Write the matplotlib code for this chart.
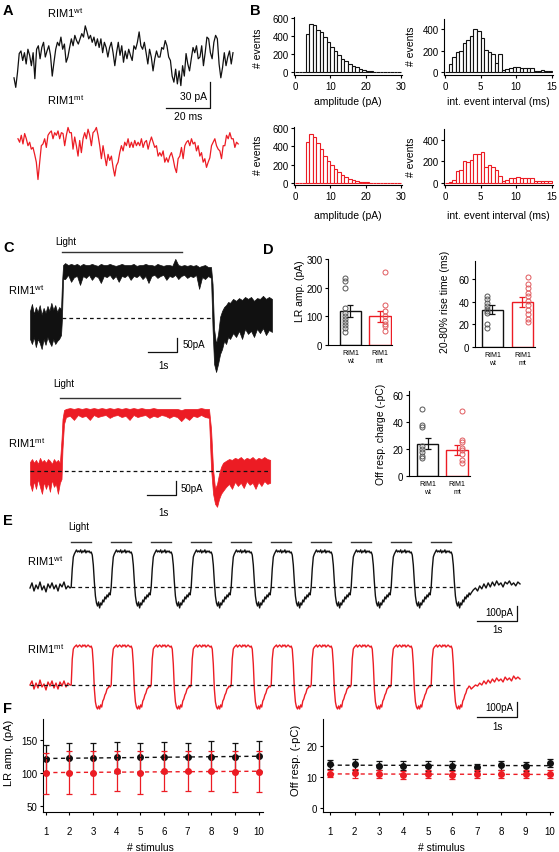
import numpy as np
import matplotlib
matplotlib.use("Agg")
import matplotlib.pyplot as plt
import matplotlib.transforms as mtransforms

plt.rcParams["font.family"] = ["Liberation Sans", "DejaVu Sans"]
plt.rcParams["mathtext.default"] = "regular"
plt.rcParams["axes.linewidth"] = 0.8

W, H = 559, 853
BLACK = "#111111"
RED = "#ec1c24"
PT_GRAY = "#555555"
PT_RED = "#e0585c"

# ---------------- Panel A: spontaneous currents (pA), one sample per A_DT ms
A_DT = 0.79
a_wt = [-14, -25, -8, 14, 17, 6, 15, 2, 19, 12, 0, 15, -15, 19, 23, 8, 21, 27, 10, 17,
        23, 12, -12, 4, 19, 27, 23, 33, 19, 25, 4, 10, 21, 31, 23, 35, 29, 25, 31, 37,
        33, 46, 39, 31, 35, 27, 33, 23, 31, 21, 31, 15, 27, 21, 10, 21, 27, 15, 0, 15,
        27, 12, 23, 4, 17, 8, 19, 12, 6, 23, 19, 27, 39, 23, 19, 27, 15, 2, 19, 10,
        -6, 8, 17, 10, 10, 21, 19, 29, 23, 10, 6, -12, -19, -4, -21, -6, -23, 0, -12, 14,
        2, -6, 8, 21, 15, 23, 8, 10, 23, 0, 15, 33, 31, 15, 8, 27, 35, 31, 2, -14,
        -2, 15, 0, 10, 17, 2, 15]
a_mt = [8, 4, 12, 2, 14, 8, 0, 4, -4, -2, -10, -19, -39, -19, 0, 2, 8, -2, 12, 15,
        17, 8, 15, 12, 17, 8, 15, 14, 0, 12, 21, 15, 15, -4, 10, 0, -12, 6, -8, 8,
        15, 8, 19, 12, 0, 15, 17, 21, 12, 0, -15, 0, -12, -23, -10, -17, -12, -25, -35, -23,
        -19, -8, 0, -6, 4, 0, 8, -2, 4, -2, 6, 0, 4, 0, 8, -2, 4, 6, -4, 4,
        10, 4, -2, 0, -12, -8, -12, -6, -19, -14, -19, -12, -8, -15, -25, -31, -15, -12, -2, -15,
        0, 4, 6, 0, 8, 2, 4, -6, 0, -12, -8, -19, -15, -25, -19, -14, 0, 4, 8, 0,
        -4, -6, -15, 0, 0, 12, 8, 15, 8, 8, -2, 4, 2]

# ---------------- Panel B: histograms
amp_left = list(range(0, 30))                 # 1 pA bins
amp_wt = [0, 0, 0, 420, 535, 525, 470, 440, 390, 330, 275, 230, 190, 150, 120, 95, 70, 55, 40, 25,
          15, 10, 5, 3, 0, 0, 0, 0, 0, 0]
amp_mt = [0, 0, 0, 450, 540, 505, 440, 370, 300, 240, 195, 150, 115, 85, 60, 40, 28, 18, 10, 5,
          2, 0, 0, 0, 0, 0, 0, 0, 0, 0]
iei_left = [0.5 * i for i in range(30)]        # 0.5 ms bins
iei_wt = [0, 75, 140, 185, 195, 270, 295, 340, 405, 385, 320, 205, 190, 165, 80, 170, 20, 30, 40, 45,
          45, 40, 35, 40, 40, 10, 10, 15, 10, 5]
iei_mt = [0, 10, 30, 110, 115, 200, 190, 215, 265, 270, 285, 145, 165, 150, 115, 60, 20, 30, 40, 40,
          50, 45, 45, 40, 40, 20, 20, 20, 20, 20]

# ---------------- Panel C: long light response, noise envelope (pA vs s)
c_wt_pre_hi = [25, 50, 14, 39, 21, 46, 11, 36, 18, 43, 25, 54, 29, 46, 21, 39, 32]
c_wt_pre_lo = [-75, -93, -68, -104, -75, -89, -111, -75, -96, -68, -86, -100, -75, -93, -82, -75, -61]
c_wt_rise_t = [1.10, 1.14]
c_wt_rise_hi = [121, 189]
c_wt_rise_lo = [-4, 139]
c_wt_pl_hi = [196, 189, 193, 189, 193, 186, 193, 189, 189, 193, 189, 186, 193, 189, 189, 193, 189, 186, 189, 193,
              189, 189, 189, 193, 186, 189, 189, 193, 189, 189, 186, 193, 189, 186, 189, 189, 186, 211, 189, 186,
              189, 186, 189, 186, 189, 182, 186, 189, 182, 182]
c_wt_pl_lo = [139, 154, 129, 146, 150, 118, 150, 143, 154, 136, 150, 146, 125, 150, 146, 154, 139, 150, 129, 150,
              146, 154, 136, 150, 146, 154, 139, 150, 125, 150, 154, 143, 150, 154, 136, 150, 146, 154, 139, 150,
              154, 143, 150, 146, 154, 104, 146, 139, 150, 143]
c_wt_fall_t = [6.293, 6.345, 6.414, 6.483, 6.552, 6.621, 6.690, 6.759, 6.828, 6.897]
c_wt_fall_hi = [121, -39, -93, -57, 4, 25, 39, 46, 57, 54]
c_wt_fall_lo = [-39, -164, -193, -164, -129, -111, -82, -93, -68, -75]
c_wt_post_hi = [68, 61, 71, 64, 75, 68, 75, 61, 71, 68, 79, 68, 75, 68]
c_wt_post_lo = [-54, -68, -46, -75, -39, -57, -46, -68, -39, -54, -36, -61, -43, -50]

c_mt_pre_hi = [31, 41, 28, 38, 24, 45, 31, 38, 28, 41, 35, 24, 41, 31, 38, 28]
c_mt_pre_lo = [-45, -69, -35, -62, -28, -55, -79, -38, -62, -41, -72, -31, -55, -45, -79, -41]
c_mt_rise_t = [1.086, 1.12, 1.172]
c_mt_rise_hi = [110, 179, 210]
c_mt_rise_lo = [-28, 76, 162]
c_mt_pl_hi = [214, 217, 214, 217, 214, 217, 214, 217, 214, 217, 214, 217, 214, 217, 214, 217, 214, 217, 214, 217,
              214, 214, 217, 214, 214, 214, 214, 214, 214, 210, 214, 214, 214, 214, 217, 214, 214]
c_mt_pl_lo = [186, 190, 176, 193, 186, 190, 176, 193, 186, 190, 193, 183, 190, 193, 186, 190, 176, 193, 186, 190,
              193, 183, 190, 186, 193, 190, 183, 190, 186, 172, 186, 176, 190, 186, 193, 186, 183]
c_mt_fall_t = [6.241, 6.31, 6.379, 6.448, 6.517, 6.586, 6.655]
c_mt_fall_hi = [145, 7, -62, -45, -10, 14, 28]
c_mt_fall_lo = [7, -79, -114, -124, -97, -79, -69]
c_mt_post_hi = [35, 41, 38, 45, 41, 48, 38, 45, 41, 48, 38, 45, 41, 48, 41, 38]
c_mt_post_lo = [-55, -45, -62, -38, -52, -41, -59, -35, -48, -41, -62, -38, -52, -35, -45, -41]

# ---------------- Panel D: summary bars
lr_wt_mean, lr_wt_sem = 119, 22
lr_mt_mean, lr_mt_sem = 100, 20
lr_wt_pts = [235, 225, 200, 130, 110, 100, 90, 80, 70, 60, 45]
lr_mt_pts = [255, 140, 120, 100, 85, 75, 65, 50]
rise_wt_mean, rise_wt_sem = 33, 4
rise_mt_mean, rise_mt_sem = 39.5, 4.5
rise_wt_pts = [45, 42, 39, 36, 34, 32, 30, 20, 17]
rise_mt_pts = [62, 56, 52, 48, 45, 41, 37, 33, 29, 25, 22]
off_wt_mean, off_wt_sem = 24, 4
off_mt_mean, off_mt_sem = 19.5, 3.7
off_wt_pts = [50, 38, 36, 22, 20, 18, 15, 13]
off_mt_pts = [48, 27, 25, 21, 19, 16, 12, 10]
groups = ["RIM1\nwt", "RIM1\nmt"]

# ---------------- Panel E: train of 10 light pulses (pA vs s)
e_onsets = [1.03, 2.03, 3.03, 4.03, 5.03, 6.03, 7.03, 8.03, 9.03, 10.03]
e_pulse_dur = 0.49
e_wt_pre = [-7, 27, -27, 13, -13, 33, -20, 7, -33, 20, -7, 27, -13, 13, -27, 20, 0, 33, -13, 7, -7]
e_wt_cycle = [0, 120, 200, 220, 233, 247, 233, 240, 233, 247, 227, 240, 233, 247, 227, 240, 233, 240, 227, 233,
              213, 147, 33, -60, -107, -127, -100, -140, -107, -120, -87, -100, -67, -80, -53, -67, -40, -53]
e_wt_post = [-40, -20, -7, -27, 7, -13, 20, -7, 27, 0, 33, 7, 40, 13, 27, 0, 33, 20, 40, 13, 27, 7, 33, 20]
e_mt_pre = [0, 27, -27, 13, -20, 33, -13, 7, -33, 20, -7, 27, -20, 13, -27, 20, -7, 27, -13, 13, 0]
e_mt_cycle = [0, 173, 240, 253, 260, 267, 253, 260, 267, 260, 253, 267, 260, 267, 253, 260, 267, 260, 253, 260,
              240, 140, -27, -113, -147, -160, -140, -160, -133, -147, -107, -93, -67, -53, -27, -20, -7, -13]
e_mt_post = [-27, -13, 0, -7, 13, 0, 27, 7, 33, 13, 40, 20, 47, 27, 40, 20, 53, 33, 47, 27, 60, 40, 53, 40]

# ---------------- Panel F: per-stimulus summary
stim = [1, 2, 3, 4, 5, 6, 7, 8, 9, 10]
f_lr_wt = [121, 123, 123, 124, 124, 124, 124, 125, 124, 126]
f_lr_wt_err = [21, 22, 22, 23, 22, 23, 22, 23, 22, 23]
f_lr_mt = [100, 101, 101, 103, 101, 103, 103, 103, 102, 102]
f_lr_mt_err = [31, 32, 32, 30, 32, 30, 30, 30, 31, 31]
f_off_wt = [14.2, 14.2, 13.8, 13.7, 13.5, 13.8, 13.2, 13.9, 13.5, 14.5]
f_off_wt_err = [1.5, 1.8, 1.5, 1.5, 1.6, 1.5, 1.2, 1.4, 1.4, 1.3]
f_off_mt = [11.2, 11.3, 11.0, 10.7, 10.9, 10.7, 11.0, 11.0, 11.0, 11.0]
f_off_mt_err = [1.2, 1.5, 1.4, 1.3, 1.3, 1.3, 1.2, 1.3, 1.2, 1.2]

# =====================================================================
fig = plt.figure(figsize=(W / 100, H / 100), dpi=100)


def px_axes(l, t, r, b):
    ax = fig.add_axes([l / W, 1 - b / H, (r - l) / W, (b - t) / H])
    ax.patch.set_visible(False)
    return ax


def ftext(x, y, s, **kw):
    kw.setdefault("va", "center")
    fig.text(x / W, 1 - y / H, s, **kw)


def style(ax, fs=7):
    for s in ("top", "right"):
        ax.spines[s].set_visible(False)
    ax.tick_params(direction="out", length=2.5, width=0.8, labelsize=fs, pad=1.5)


WT = r"RIM1$^{wt}$"
MT = r"RIM1$^{mt}$"

# panel letters
for lab, x, y in [("A", 3, 11), ("B", 250, 11), ("C", 3, 248), ("D", 263, 250), ("E", 3, 521), ("F", 3, 709)]:
    ftext(x, y, lab, fontsize=10.5, fontweight="bold")

# ---------------- A
axA1 = px_axes(10, 20, 245, 125)
axA1.axis("off")
axA1.set_xlim(-1.82, 105.0)
axA1.set_ylim(-67.3, 53.9)
axA1.plot(np.arange(len(a_wt)) * A_DT, a_wt, color=BLACK, lw=0.9)
axA1.plot([69.1, 89.1, 89.1], [-48.8, -48.8, -18.8], color=BLACK, lw=0.9)
axA1.text(87.5, -35, "30 pA", ha="right", va="center", fontsize=7.5)
axA1.text(79, -58, "20 ms", ha="center", va="center", fontsize=7.5)

axA2 = px_axes(10, 125, 245, 195)
axA2.axis("off")
axA2.set_xlim(-1.82, 105.0)
axA2.set_ylim(-55.7, 25.0)
axA2.plot(1.8 + np.arange(len(a_mt)) * A_DT * 0.96, a_mt, color=RED, lw=0.9)

ftext(47, 13, WT, fontsize=8)
ftext(47, 100, MT, fontsize=8)

# ---------------- B
def hist(rect, left, counts, width, color, xlim, ylim, xticks, yticks, xlabel, ylab_x, ylab_y, xlab_y):
    ax = px_axes(*rect)
    style(ax)
    ax.bar(left, counts, width=width, align="edge", facecolor="white", edgecolor=color, linewidth=0.8)
    ax.set_xlim(*xlim)
    ax.set_ylim(*ylim)
    ax.set_xticks(xticks)
    ax.set_yticks(yticks)
    ftext(ylab_x, ylab_y, "# events", rotation=90, ha="center", fontsize=7.5)
    if xlabel:
        ftext((rect[0] + rect[2]) / 2, xlab_y, xlabel, ha="center", fontsize=7.5)
    return ax


hist((294, 18, 402, 76), amp_left, amp_wt, 1.0, BLACK, (-0.3, 30.3), (-30, 610), [0, 10, 20, 30],
     [0, 200, 400, 600], "amplitude (pA)", 258, 48, 102)
hist((444, 20, 553, 76), iei_left, iei_wt, 0.5, BLACK, (-0.15, 15.2), (-28, 495), [0, 5, 10, 15],
     [0, 200, 400], "int. event interval (ms)", 411, 46, 102)
hist((294, 128, 402, 186), amp_left, amp_mt, 1.0, RED, (-0.3, 30.3), (-26, 615), [0, 10, 20, 30],
     [0, 200, 400, 600], "amplitude (pA)", 258, 155, 216)
hist((444, 130, 553, 186), iei_left, iei_mt, 0.5, RED, (-0.15, 15.2), (-21, 500), [0, 5, 10, 15],
     [0, 200, 400], "int. event interval (ms)", 411, 157, 216)

# ---------------- C
def band(ax, segs, color):
    t = np.concatenate([s[0] for s in segs])
    hi = np.concatenate([s[1] for s in segs])
    lo = np.concatenate([s[2] for s in segs])
    ax.fill_between(t, lo, hi, color=color, lw=0.5, edgecolor=color)


axC1 = px_axes(20, 240, 285, 380)
axC1.axis("off")
axC1.set_xlim(-0.345, 8.79)
axC1.set_ylim(-218, 282)
band(axC1, [
    (np.linspace(0, 1.07, len(c_wt_pre_hi)), c_wt_pre_hi, c_wt_pre_lo),
    (c_wt_rise_t, c_wt_rise_hi, c_wt_rise_lo),
    (np.linspace(1.21, 6.24, len(c_wt_pl_hi)), c_wt_pl_hi, c_wt_pl_lo),
    (c_wt_fall_t, c_wt_fall_hi, c_wt_fall_lo),
    (np.linspace(7.0, 8.34, len(c_wt_post_hi)), c_wt_post_hi, c_wt_post_lo)], BLACK)
axC1.plot([1.10, 6.24], [0, 0], ls=(0, (3, 2.5)), color=BLACK, lw=0.9)
axC1.plot([1.10, 5.24], [236, 236], color="#333333", lw=1.0)
axC1.plot([4.06, 5.06, 5.06], [-122.5, -122.5, -72.5], color=BLACK, lw=0.9)
axC1.text(5.25, -93, "50pA", ha="left", va="center", fontsize=7)
axC1.text(4.6, -168, "1s", ha="center", va="center", fontsize=7)
ftext(55, 242, "Light", fontsize=7)
ftext(8, 290, WT, fontsize=8)

axC2 = px_axes(20, 385, 285, 520)
axC2.axis("off")
axC2.set_xlim(-0.345, 8.79)
axC2.set_ylim(-166, 300)
band(axC2, [
    (np.linspace(0, 1.03, len(c_mt_pre_hi)), c_mt_pre_hi, c_mt_pre_lo),
    (c_mt_rise_t, c_mt_rise_hi, c_mt_rise_lo),
    (np.linspace(1.24, 6.17, len(c_mt_pl_hi)), c_mt_pl_hi, c_mt_pl_lo),
    (c_mt_fall_t, c_mt_fall_hi, c_mt_fall_lo),
    (np.linspace(6.76, 8.28, len(c_mt_post_hi)), c_mt_post_hi, c_mt_post_lo)], RED)
axC2.plot([0, 8.28], [0, 0], ls=(0, (3, 2.5)), color=BLACK, lw=0.9)
axC2.plot([1.03, 5.17], [252, 252], color="#333333", lw=1.0)
axC2.plot([4.02, 5.02, 5.02], [-83.5, -83.5, -33.5], color=BLACK, lw=0.9)
axC2.text(5.2, -60, "50pA", ha="left", va="center", fontsize=7)
axC2.text(4.59, -141, "1s", ha="center", va="center", fontsize=7)
ftext(53, 384, "Light", fontsize=7)
ftext(8, 443, MT, fontsize=8)

# ---------------- D
def bars(rect, xlim, ylim, yticks, wm, we, wp, mm, me, mp, ylabel, ylx, yly):
    ax = px_axes(*rect)
    style(ax)
    ax.bar([1, 2], [wm, mm], width=0.72, facecolor="white", edgecolor=[BLACK, RED], linewidth=1.0, zorder=1)
    ax.plot([0.82] * len(wp), wp, "o", mfc="none", mec=PT_GRAY, ms=3.6, mew=0.7, zorder=2)
    ax.plot([2.18] * len(mp), mp, "o", mfc="none", mec=PT_RED, ms=3.6, mew=0.7, zorder=2)
    ax.errorbar([1], [wm], yerr=[we], color=BLACK, capsize=2, elinewidth=0.9, capthick=0.9, fmt="none", zorder=3)
    ax.errorbar([2], [mm], yerr=[me], color=RED, capsize=2, elinewidth=0.9, capthick=0.9, fmt="none", zorder=3)
    ax.set_xlim(*xlim)
    ax.set_ylim(*ylim)
    ax.set_yticks(yticks)
    ax.set_xticks([])
    off = mtransforms.ScaledTranslation(0, -4 / 100, fig.dpi_scale_trans)
    for x, g in zip([1, 2], groups):
        ax.text(x, ylim[0], g, transform=ax.transData + off, ha="center", va="top",
                fontsize=5, linespacing=1.2)
    ftext(ylx, yly, ylabel, rotation=90, ha="center", fontsize=7.5)
    return ax


bars((328, 260, 392, 346), (0.24, 2.41), (0, 300), [0, 100, 200, 300],
     lr_wt_mean, lr_wt_sem, lr_wt_pts, lr_mt_mean, lr_mt_sem, lr_mt_pts,
     "LR amp. (pA)", 300, 291)
bars((475, 262, 535, 348), (0.417, 2.42), (0, 76), [0, 20, 40, 60],
     rise_wt_mean, rise_wt_sem, rise_wt_pts, rise_mt_mean, rise_mt_sem, rise_mt_pts,
     "20-80% rise time (ms)", 445, 302)
bars((409, 392, 470, 477), (0.373, 2.44), (0, 63), [0, 20, 40, 60],
     off_wt_mean, off_wt_sem, off_wt_pts, off_mt_mean, off_mt_sem, off_mt_pts,
     "Off resp. charge (-pC)", 381, 434)

# ---------------- E
def e_trace(pre, cycle, post):
    n = len(cycle)
    ts = [np.linspace(0, 1.0, len(pre))]
    vs = [pre]
    for on in e_onsets:
        ts.append(on + np.arange(n) / n)
        vs.append(cycle)
    ts.append(np.linspace(e_onsets[-1] + 1.0, 12.25, len(post)))
    vs.append(post)
    return np.concatenate(ts), np.concatenate(vs)


axE1 = px_axes(20, 535, 530, 640)
axE1.axis("off")
axE1.set_xlim(-0.25, 12.5)
axE1.set_ylim(-347, 353)
t, v = e_trace(e_wt_pre, e_wt_cycle, e_wt_post)
axE1.plot(t, v, color=BLACK, lw=1.0)
axE1.plot([e_onsets[0], 10.78], [0, 0], ls=(0, (3, 2.5)), color=BLACK, lw=0.9)
for on in e_onsets:
    axE1.plot([on, on + e_pulse_dur], [300, 300], color="#333333", lw=1.0)
axE1.plot([11.18, 12.18, 12.18], [-227, -227, -127], color=BLACK, lw=0.9)
axE1.text(12.08, -170, "100pA", ha="right", va="center", fontsize=7)
axE1.text(11.68, -282, "1s", ha="center", va="center", fontsize=7)
ftext(68, 527, "Light", fontsize=7)
ftext(27, 561, WT, fontsize=8)

axE2 = px_axes(20, 640, 530, 735)
axE2.axis("off")
axE2.set_xlim(-0.25, 12.5)
axE2.set_ylim(-327, 307)
t, v = e_trace(e_mt_pre, e_mt_cycle, e_mt_post)
axE2.plot(t, v, color=RED, lw=1.0)
axE2.plot([0, 10.78], [0, 0], ls=(0, (3, 2.5)), color=BLACK, lw=0.9)
axE2.plot([11.18, 12.18, 12.18], [-213, -213, -113], color=BLACK, lw=0.9)
axE2.text(12.08, -150, "100pA", ha="right", va="center", fontsize=7)
axE2.text(11.68, -272, "1s", ha="center", va="center", fontsize=7)
ftext(27, 649, MT, fontsize=8)

# ---------------- F
def fpanel(rect, xlim, ylim, yticks, wt, wte, mt, mte, ylabel, ylx, yly, xlx):
    ax = px_axes(*rect)
    style(ax)
    ax.tick_params(axis="x", pad=7.5)
    ax.errorbar(stim, wt, yerr=wte, fmt="o", color=BLACK, ms=4, capsize=2, elinewidth=0.9, capthick=0.9, zorder=3)
    ax.errorbar(stim, mt, yerr=mte, fmt="o", color=RED, ms=4, capsize=2, elinewidth=0.9, capthick=0.9, zorder=4)
    xs = np.array(stim, dtype=float)
    for vals, c in ((wt, BLACK), (mt, RED)):
        p = np.polyfit(xs, vals, 1)
        ax.plot(xs, np.polyval(p, xs), ls=(0, (3, 2.5)), color=c, lw=1.0, zorder=5)
    ax.set_xlim(*xlim)
    ax.set_ylim(*ylim)
    ax.set_xticks(stim)
    ax.set_yticks(yticks)
    ftext(ylx, yly, ylabel, rotation=90, ha="center", fontsize=8)
    ftext(xlx, 848, "# stimulus", ha="center", fontsize=7.5)
    return ax


fpanel((43, 720, 263, 813), (0.886, 10.19), (41.6, 181.5), [50, 100, 150],
       f_lr_wt, f_lr_wt_err, f_lr_mt, f_lr_mt_err, "LR amp. (pA)", 9, 753, 150)
fpanel((323, 720, 553, 813), (0.71, 10.12), (-1.3, 28.9), [0, 10, 20],
       f_off_wt, f_off_wt_err, f_off_mt, f_off_mt_err, "Off resp. (-pC)", 296, 760, 441)

fig.savefig("out.png", dpi=100)
